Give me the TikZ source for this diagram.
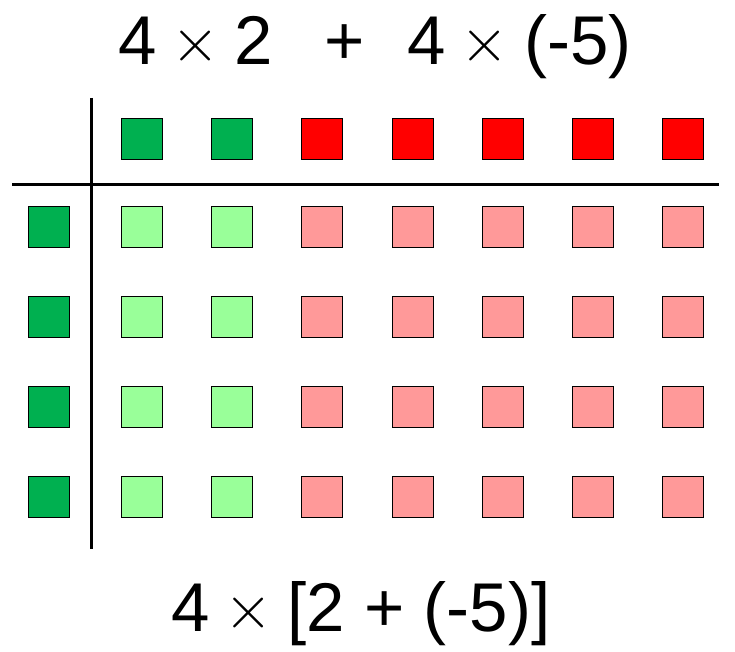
\documentclass[tikz,border=0pt]{standalone}
\usepackage{fontspec}
\setmainfont{Liberation Sans}
\definecolor{dgreen}{HTML}{00B050}
\definecolor{lgreen}{HTML}{99FF99}
\definecolor{dred}{HTML}{FF0000}
\definecolor{lred}{HTML}{FF9999}
\newcommand{\mytimes}{\hspace{15pt}\raisebox{3pt}{\scalebox{6.2}{\normalsize$\times$}}\hspace{15pt}}
\tikzset{
  sq/.style={draw=black, line width=0.8pt, minimum size=41pt, inner sep=0pt, outer sep=0pt},
  axis/.style={line width=3pt, black},
  big/.style={font=\fontsize{69}{80}\selectfont, inner sep=0pt, anchor=base west}
}
\begin{document}
\begin{tikzpicture}[x=1pt,y=-1pt]
\useasboundingbox (0,0) rectangle (735,652);
% top row factors
\foreach \i/\c in {1/dgreen,2/dgreen,3/dred,4/dred,5/dred,6/dred,7/dred}{
  \node[sq, fill=\c] (t\i) at ({141.5+90.3*(\i-1)},139) {};
}
% left column factors
\foreach \j in {1,2,3,4}{
  \node[sq, fill=dgreen] (l\j) at (48.5,{226.5+90*(\j-1)}) {};
}
% products
\foreach \j in {1,2,3,4}{
  \foreach \i/\c in {1/lgreen,2/lgreen,3/lred,4/lred,5/lred,6/lred,7/lred}{
    \node[sq, fill=\c] (p\j\i) at ({141.5+90.3*(\i-1)},{226.5+90*(\j-1)}) {};
  }
}
% axes
\coordinate (hl) at (12,184.5);
\coordinate (hr) at (719,184.5);
\coordinate (vt) at (91.5,98);
\coordinate (vb) at (91.5,549);
\draw[axis] (hl) -- (hr);
\draw[axis] (vt) -- (vb);
% texts
\node[big] (top) at (118,64.5) {4\mytimes 2\hspace{51pt}+\hspace{43pt}4\mytimes(-5)};
\node[big] (bot) at (171,631) {4\mytimes[2 + (-5)]};
\end{tikzpicture}
\end{document}
